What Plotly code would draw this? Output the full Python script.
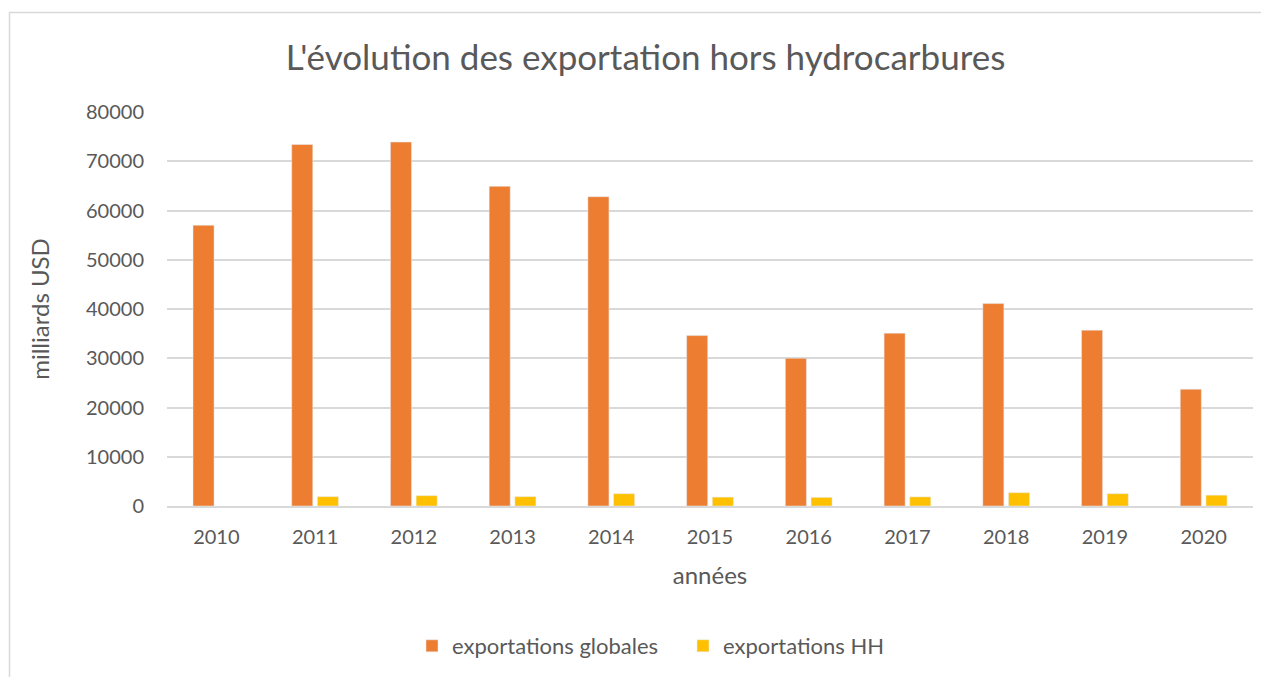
import plotly.graph_objects as go

annees = ["2010", "2011", "2012", "2013", "2014", "2015", "2016", "2017", "2018", "2019", "2020"]
exportations_globales = [57000, 73400, 73900, 64900, 62800, 34600, 30000, 35100, 41100, 35700, 23700]
exportations_hh = [None, 1900, 2100, 1900, 2500, 1800, 1750, 1850, 2700, 2500, 2200]

txt = "#595959"
grid = "#D9D9D9"

# the page adds an 8px body margin, so the figure is shifted by that much
W, H = 1261, 669
L, R, T, B = 159, 1245, 104, 498

fig = go.Figure()
fig.add_trace(go.Bar(x=annees, y=exportations_globales, name="exportations globales",
                     marker=dict(color="#ED7D31")))
fig.add_trace(go.Bar(x=annees, y=exportations_hh, name="exportations HH",
                     marker=dict(color="#FFC000")))

fig.update_layout(
    width=W, height=H,
    margin=dict(l=L, r=W - R, t=T, b=H - B),
    paper_bgcolor="white", plot_bgcolor="white",
    font=dict(family="Lato", size=20, color=txt),
    title=dict(text="L'évolution des exportation hors hydrocarbures",
               x=637.5 / W, xref="container", xanchor="center",
               y=1 - 50 / H, yref="container", yanchor="middle",
               font=dict(size=35, color=txt)),
    barmode="group", bargap=0.48, bargroupgap=0.18,
    showlegend=True,
    legend=dict(orientation="h", xref="container", x=675 / W, xanchor="center",
                yref="container", y=(H - 638) / H, yanchor="middle",
                entrywidth=226, entrywidthmode="pixels",
                font=dict(size=22, color=txt)),
    xaxis=dict(title=dict(text="années", standoff=20), showgrid=False, ticks="",
               ticklabelstandoff=12,
               showline=True, linecolor=grid, linewidth=1.5, tickfont=dict(size=20)),
    yaxis=dict(title=dict(text="milliards USD", standoff=29), range=[0, 80000],
               dtick=10000, showgrid=True, gridcolor=grid, gridwidth=1.5,
               ticklabelstandoff=22,
               zeroline=False, ticks="", tickformat="d", tickfont=dict(size=20)),
    shapes=[dict(type="rect", xref="paper", yref="paper",
                 x0=(1.5 - L) / (R - L), x1=(1290 - L) / (R - L),
                 y0=(B - 700) / (B - T), y1=(B - 4.5) / (B - T),
                 line=dict(color=grid, width=1.5), fillcolor="rgba(0,0,0,0)", layer="below")],
)

fig.write_html("out.html")
